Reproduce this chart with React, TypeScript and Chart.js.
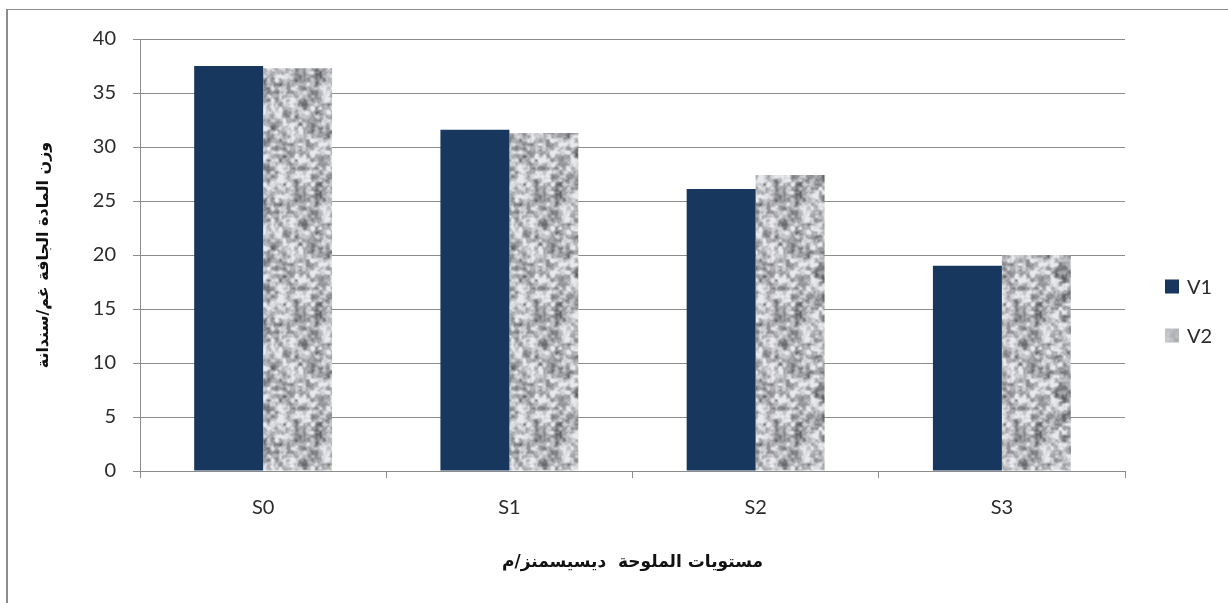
import React, { useEffect, useRef } from 'react';
import { Chart, registerables } from 'chart.js';

Chart.register(...registerables);

// Salinity levels and dry-matter weight per variety
const categories = ['S0', 'S1', 'S2', 'S3'];
const seriesNames = ['V1', 'V2'];
const v1Values = [37.5, 31.6, 26.1, 19.0];
const v2Values = [37.3, 31.3, 27.4, 20.0];
const yMin = 0;
const yMax = 40;
const yStep = 5;

const yTitle = 'وزن المادة الجافة غم/سندانة';
const xTitle = 'مستويات الملوحة  ديسيسمنز/م';

const NAVY = '#17375e';
const GRID = '#8c8c8c';
const TEXT = '#2b2b2b';
const LATIN = 'Lato, "Open Sans", sans-serif';
const ARABIC = '"DejaVu Sans", sans-serif';

// Deterministic hash for the granite texture
function hash(x: number, y: number, seed: number): number {
  let h = (seed + Math.imul(x, 374761393) + Math.imul(y, 668265263)) | 0;
  h = Math.imul(h ^ (h >>> 13), 1274126177);
  h = Math.imul(h ^ (h >>> 16), 2246822519);
  h = h ^ (h >>> 15);
  return (h >>> 0) / 4294967295;
}

// Tileable value noise
function noise(px: number, py: number, cell: number, size: number, seed: number): number {
  const cells = size / cell;
  const gx = px / cell;
  const gy = py / cell;
  const x0 = Math.floor(gx);
  const y0 = Math.floor(gy);
  const fx = gx - x0;
  const fy = gy - y0;
  const sx = fx * fx * (3 - 2 * fx);
  const sy = fy * fy * (3 - 2 * fy);
  const w = (v: number) => ((v % cells) + cells) % cells;
  const a = hash(w(x0), w(y0), seed);
  const b = hash(w(x0 + 1), w(y0), seed);
  const c = hash(w(x0), w(y0 + 1), seed);
  const d = hash(w(x0 + 1), w(y0 + 1), seed);
  return (a * (1 - sx) + b * sx) * (1 - sy) + (c * (1 - sx) + d * sx) * sy;
}

function makeGranite(ctx: CanvasRenderingContext2D, soft = false): CanvasPattern | string {
  const size = 120;
  const tile = document.createElement('canvas');
  tile.width = size;
  tile.height = size;
  const tctx = tile.getContext('2d');
  if (!tctx) return '#bdbdbd';
  const img = tctx.createImageData(size, size);
  for (let y = 0; y < size; y++) {
    for (let x = 0; x < size; x++) {
      const n =
        0.5 * noise(x, y, 4, size, 11) +
        0.3 * noise(x, y, 8, size, 23) +
        0.2 * noise(x, y, 2, size, 37);
      const amp = soft ? 70 : 230;
      let g = 182 + (n - 0.5) * amp;
      g = Math.max(90, Math.min(232, g));
      const i = (y * size + x) * 4;
      img.data[i] = g;
      img.data[i + 1] = g + 1;
      img.data[i + 2] = g + 4;
      img.data[i + 3] = 255;
    }
  }
  tctx.putImageData(img, 0, 0);
  return ctx.createPattern(tile, 'repeat') || '#bdbdbd';
}

// Vertical legend at the right, centred on the whole canvas
const sideLegend = {
  id: 'sideLegend',
  afterDraw(chart: any, _args: any, opts: any) {
    const { ctx, chartArea } = chart;
    const box = 14;
    const gap = 49;
    const x = chartArea.right + 40;
    const startY = chart.height / 2 - 15;
    ctx.save();
    ctx.font = `20px ${LATIN}`;
    ctx.textBaseline = 'middle';
    ctx.textAlign = 'left';
    chart.data.datasets.forEach((ds: any, i: number) => {
      const cy = startY + i * gap;
      ctx.fillStyle = (opts.swatches && opts.swatches[i]) || ds.backgroundColor;
      ctx.fillRect(x, cy - box / 2, box, box);
      ctx.fillStyle = TEXT;
      ctx.fillText(ds.label, x + box + 8, cy + 1);
    });
    ctx.restore();
  },
};

export default function App() {
  const canvasRef = useRef<HTMLCanvasElement | null>(null);

  useEffect(() => {
    const canvas = canvasRef.current;
    if (!canvas) return;
    const ctx = canvas.getContext('2d');
    if (!ctx) return;
    const granite = makeGranite(ctx);
    const graniteSoft = makeGranite(ctx, true);

    const chart = new Chart(ctx, {
      type: 'bar',
      data: {
        labels: categories,
        datasets: [
          { label: seriesNames[0], data: v1Values, backgroundColor: NAVY, borderWidth: 0 },
          { label: seriesNames[1], data: v2Values, backgroundColor: granite as any, borderWidth: 0 },
        ],
      },
      plugins: [sideLegend],
      options: {
        responsive: false,
        animation: false,
        layout: { padding: { top: 39, right: 103, bottom: 0, left: 0 } },
        datasets: { bar: { categoryPercentage: 0.56, barPercentage: 1 } },
        plugins: {
          legend: { display: false },
          tooltip: { enabled: false },
          sideLegend: { swatches: [NAVY, graniteSoft] },
        },
        scales: {
          x: {
            grid: {
              drawOnChartArea: false,
              drawTicks: true,
              tickLength: 7,
              color: GRID,
              offset: true,
            },
            border: { color: GRID, width: 1 },
            ticks: { color: TEXT, font: { family: LATIN, size: 20 }, padding: 18 },
            title: {
              display: true,
              text: xTitle,
              color: '#111',
              font: { family: ARABIC, size: 17, weight: 'bold' },
              padding: { top: 0, bottom: 30 },
            },
            afterFit(scale: any) {
              scale.height = 132;
            },
          },
          y: {
            min: yMin,
            max: yMax,
            ticks: {
              stepSize: yStep,
              color: TEXT,
              font: { family: LATIN, size: 20 },
              padding: 17,
            },
            grid: { color: GRID, tickLength: 7, lineWidth: 1 },
            border: { color: GRID, width: 1 },
            title: {
              display: true,
              text: yTitle,
              color: '#111',
              font: { family: ARABIC, size: 16, weight: 'bold' },
              padding: { top: 34, bottom: 0 },
            },
            afterFit(scale: any) {
              scale.width = 140;
            },
          },
        },
      } as any,
    });

    return () => chart.destroy();
  }, []);

  return (
    <div
      style={{
        position: 'absolute',
        left: 0,
        top: 0,
        width: 1228,
        height: 603,
        overflow: 'hidden',
        background: '#fff',
      }}
    >
      <div
        style={{
          position: 'absolute',
          left: 6,
          top: 9,
          width: 1400,
          height: 800,
          borderLeft: '2px solid #8c8c8c',
          borderTop: '1px solid #8c8c8c',
        }}
      />
      <canvas
        ref={canvasRef}
        width={1228}
        height={603}
        style={{ position: 'absolute', left: 0, top: 0, width: 1228, height: 603 }}
      />
    </div>
  );
}
